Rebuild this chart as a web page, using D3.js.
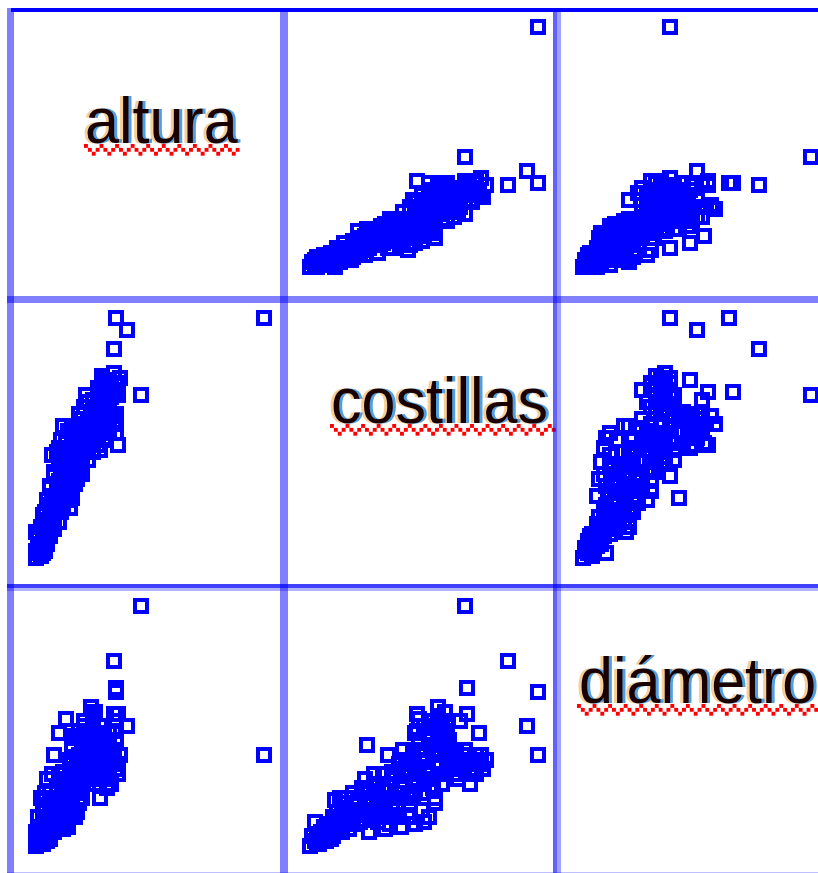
<!DOCTYPE html>
<html>
<head>
<meta charset="utf-8">
<script src="https://cdn.jsdelivr.net/npm/d3@7"></script>
<style>
  html, body { margin: 0; padding: 0; background: #ffffff; overflow: hidden; }
  svg { display: block; }
</style>
</head>
<body>
<svg id="chart" width="818" height="873"></svg>
<script>
// ---- Data (in relative units 0-100) ----
const variables = ["altura", "costillas", "diámetro"];

const altura = [
  0,1,2,3,1,4,2,0,5,3,
  3,1,5,4,6,2,7,0,8,5,10,3,6,
  6,8,4,10,7,12,9,5,11,14,8,13,10,16,6,3,15,
  9,12,15,18,8,14,17,8,17,13,20,16,19,10,16,19,12,15,14,6,
  14,18,17,9,25,16,20,12,27,24,17,30,11,21,26,15,28,19,23,13,10,13,7,
  18,24,29,14,32,21,27,16,34,25,30,20,23,33,28,19,31,26,35,16,12,29,25,
  24,29,32,21,27,34,30,25,33,28,36,31,23,35,22,
  27,32,35,30,37,29,34,36,33,
  100,46,35,40,34,35,24,16,32,34,35,36,
  2,3,4,5,6,7,4,8,9,11,
  7,9,11,12,10,13,14,11,16,12,
  15,17,13,18,16,20,22,19,23,21,
  25,24,27,26,28,30,27,29,31,32,
  26,30,33,31,28,34,18,15,20,22,
  14,17,19,25,13,8,6,24,19,17
];
const costillas = [
  0,2,1,4,5,3,6,3,6,2,
  8,10,12,14,9,13,15,11,12,7,15,11,14,
  17,18,19,20,21,22,23,24,25,26,26,27,28,28,22,18,21,
  30,31,32,33,34,35,37,36,38,39,35,39,40,40,32,36,33,36,40,30,
  41,42,43,44,44,45,46,46,47,48,48,49,49,50,50,42,45,47,41,50,46,48,43,
  51,52,52,53,53,54,55,55,56,56,57,58,58,59,60,60,54,59,57,52,55,58,58,
  61,62,62,63,64,60,65,66,67,68,68,69,65,60,68,
  71,72,72,74,75,76,77,73,70,
  100,68,100,95,87,69,56,25,74,69,52,47,
  4,7,9,10,12,13,16,16,19,19,
  24,26,27,29,32,30,33,37,34,36,
  38,40,43,44,47,48,46,51,49,53,
  51,54,53,57,56,59,61,64,61,66,
  63,67,71,73,70,69,49,44,41,56,
  30,31,38,47,24,21,19,59,55,52
];
const diametro = [
  0,2,4,1,6,3,8,1,4,10,
  5,12,8,16,3,20,10,6,14,2,18,19,6,
  7,12,22,15,18,10,24,28,14,22,6,17,30,12,13,14,20,
  10,18,24,14,38,9,30,16,22,12,20,34,34,20,30,18,7,28,8,22,
  24,30,12,18,34,40,22,9,28,44,32,38,15,50,26,36,20,48,40,10,47,53,30,
  36,46,30,28,42,52,38,20,48,54,34,44,26,40,50,32,24,56,44,12,18,46,52,
  42,36,36,30,38,40,28,52,38,40,34,34,36,48,35,
  36,30,32,34,38,32,36,30,26,
  38,100,64,50,77,66,58,42,47,55,52,55,
  3,6,9,4,11,7,10,16,9,20,
  15,19,11,23,15,26,19,13,25,31,
  17,27,21,36,26,40,33,28,36,42,
  32,38,44,40,30,42,34,40,44,36,
  32,32,34,38,30,38,22,30,32,46,
  16,13,22,30,18,10,17,48,38,46
];
const domains = { "altura": [0, 100], "costillas": [0, 100], "diámetro": [0, 100] };

// ---- Layout ----
const svg = d3.select("#chart");
const W = 818, H = 873;
const colLeft = [14, 288, 561];
const rowTop = [12, 303, 591];

const points = altura.map((_, i) => ({ "altura": altura[i], "costillas": costillas[i], "diámetro": diametro[i] }));

const xScales = variables.map((v, j) => d3.scaleLinear().domain(domains[v]).range([colLeft[j] + 22, colLeft[j] + 250]));
const yScales = variables.map((v, i) => d3.scaleLinear().domain(domains[v]).range([rowTop[i] + 255, rowTop[i] + 15]));

svg.append("rect").attr("width", W).attr("height", H).attr("fill", "#ffffff");

// ---- Scatter panels ----
const gPts = svg.append("g");
variables.forEach((vy, i) => {
  variables.forEach((vx, j) => {
    if (i === j) return;
    gPts.append("g")
      .selectAll("rect")
      .data(points)
      .join("rect")
      .attr("x", d => Math.round(xScales[j](d[vx])) - 6)
      .attr("y", d => Math.round(yScales[i](d[vy])) - 6)
      .attr("width", 12)
      .attr("height", 12)
      .attr("fill", "none")
      .attr("stroke", "#0000ff")
      .attr("stroke-width", 4)
      .attr("shape-rendering", "crispEdges");
  });
});

// ---- Diagonal labels ----
const labelPos = [
  { x: 85, y: 143, ux: 84, ux2: 238, uy: 144 },
  { x: 331, y: 423, ux: 330, ux2: 553, uy: 424 },
  { x: 579, y: 703, ux: 577, ux2: 815, uy: 704 }
];
const gLab = svg.append("g");
variables.forEach((v, k) => {
  const p = labelPos[k];
  const g = gLab.append("g").attr("transform", `translate(${p.x},${p.y}) scale(1,1.07)`);
  [["#f7c98a", -3, 0.9], ["#3f95e0", 3, 0.9], ["#1a0000", 0, 1]].forEach(([c, dx, op]) => {
    g.append("text")
      .attr("x", dx).attr("y", 0)
      .attr("font-family", "'Liberation Sans', Arial, sans-serif")
      .attr("font-size", 61)
      .attr("fill", c).attr("opacity", op)
      .text(v);
  });
  // red wavy spell-check underline
  const step = 3.89;
  const ys = [0, 1, 2, 1];
  const sq = [];
  for (let n = 0; p.ux + n * step < p.ux2; n++) sq.push({ x: p.ux + n * step, y: p.uy + ys[n % 4] * step });
  gLab.append("g").selectAll("rect").data(sq).join("rect")
    .attr("x", d => d.x).attr("y", d => d.y)
    .attr("width", step).attr("height", step)
    .attr("fill", "#ff0000");
});

// ---- Grid lines ----
const gL = svg.append("g");
const line = (x, y, w, h, color, op) =>
  gL.append("rect").attr("x", x).attr("y", y).attr("width", w).attr("height", h)
    .attr("fill", color).attr("fill-opacity", op);
line(11, 8, W - 11, 4, "#0000ff", 1);
line(7, 8, 7, H - 8, "#0000ff", 0.5);
line(280, 12, 8, H - 12, "#0000ff", 0.5);
line(553, 12, 4, H - 12, "#0000ff", 0.62);
line(557, 12, 4, H - 12, "#0000ff", 0.37);
line(7, 296, W - 7, 7, "#0000ff", 0.5);
line(7, 584, W - 7, 4, "#0000ff", 0.75);
line(7, 588, W - 7, 3, "#0000ff", 0.3);
line(7, 872, W - 7, 1, "#0000ff", 0.25);
</script>
</body>
</html>
